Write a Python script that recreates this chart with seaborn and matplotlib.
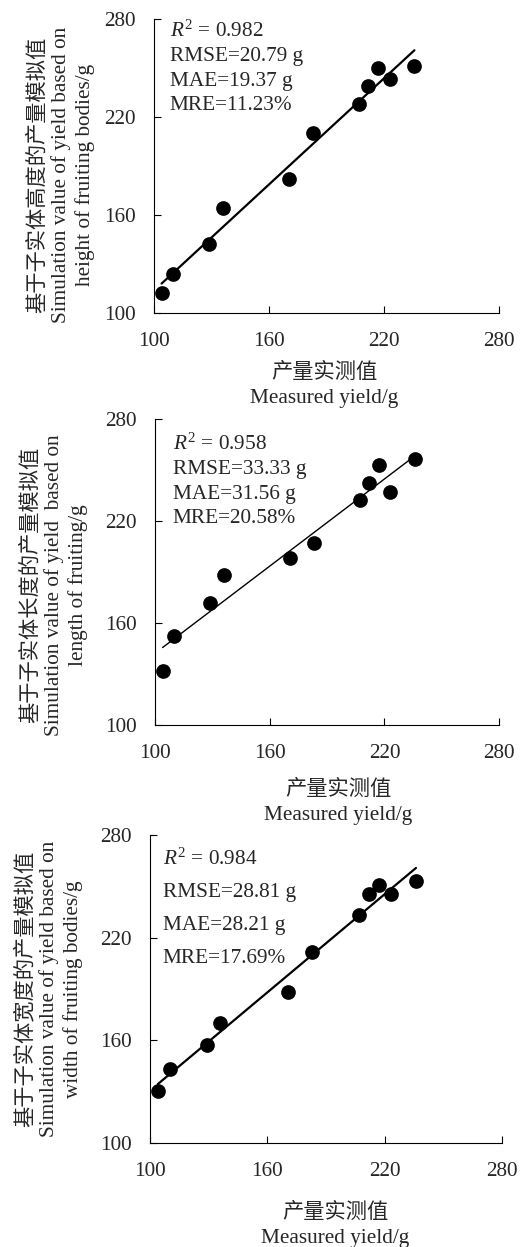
import numpy as np
import pandas as pd
import matplotlib
matplotlib.use("Agg")
import matplotlib.pyplot as plt
import seaborn as sns

# measured yield (g), same samples in all three panels
measured = [104, 110, 129, 136, 170.5, 183, 207, 212, 217, 223, 236]

# simulated yield from each fruiting body trait
sim_height = [112, 124, 142, 164, 182, 210, 228, 239, 250, 243, 251]
sim_length = [132, 152.5, 171.5, 188, 198.5, 207, 232.5, 242.5, 253, 237, 256.5]
sim_width = [130.5, 143.5, 157, 170, 188.5, 211.5, 233, 245.5, 250.5, 245.5, 253]

stats_text = [
    "$R^2$ = 0.982\nRMSE=20.79 g\nMAE=19.37 g\nMRE=11.23%",
    "$R^2$ = 0.958\nRMSE=33.33 g\nMAE=31.56 g\nMRE=20.58%",
    "$R^2$ = 0.984\nRMSE=28.81 g\nMAE=28.21 g\nMRE=17.69%",
]
ylabels = [
    "基于子实体高度的产量模拟值\nSimulation value of yield based on\nheight of fruiting bodies/g",
    "基于子实体长度的产量模拟值\nSimulation value of yield  based on\nlength of fruiting/g",
    "基于子实体宽度的产量模拟值\nSimulation value of yield based on\nwidth of fruiting bodies/g",
]
xlabel = "产量实测值\nMeasured yield/g"
ticks = [100, 160, 220, 280]

sns.set_style("ticks")
plt.rcParams['font.family'] = ['Liberation Serif', 'Noto Sans CJK SC']
plt.rcParams['mathtext.fontset'] = 'custom'
plt.rcParams['mathtext.rm'] = 'Liberation Serif'
plt.rcParams['mathtext.it'] = 'Liberation Serif:italic'
fs = 15.3
plt.rcParams['font.size'] = fs

fig = plt.figure(figsize=(5.2, 12.47), dpi=100)

# axes rectangles and per-panel tweaks
rects = [[0.296, 0.749, 0.663, 0.236],
         [0.298, 0.4186, 0.662, 0.2454],
         [0.2885, 0.0834, 0.677, 0.247]]
line_w = [1.6, 1.0, 1.6]
txt_pos = [(0.046, 0.995), (0.052, 0.953), (0.036, 0.956)]
txt_spacing = [1.4, 1.4, 1.98]
ylab_pos = [(-0.171, 0.469), (-0.195, 0.457), (-0.19, 0.5)]
xlab_pos = [(0.494, -0.168), (0.532, -0.178), (0.526, -0.193)]

sims = [sim_height, sim_length, sim_width]
for i in range(3):
    ax = fig.add_axes(rects[i])
    df = pd.DataFrame({'measured': measured, 'simulated': sims[i]})
    sns.regplot(data=df, x='measured', y='simulated', ax=ax, ci=None,
                color='black', truncate=True,
                scatter_kws={'s': 112, 'alpha': 1, 'linewidths': 0},
                line_kws={'linewidth': line_w[i]})
    ax.set_xlim(100, 280)
    ax.set_ylim(100, 280)
    ax.set_xticks(ticks)
    ax.set_yticks(ticks)
    ax.tick_params(axis='both', direction='in', length=5, width=0.8,
                   labelsize=fs, color='black')
    ax.tick_params(axis='x', pad=14)
    ax.tick_params(axis='y', pad=13)
    sns.despine(ax=ax)
    for s in ['left', 'bottom']:
        ax.spines[s].set_linewidth(0.8)
        ax.spines[s].set_color('black')

    ax.set_ylabel(ylabels[i], fontsize=fs, linespacing=1.25)
    ax.yaxis.set_label_coords(*ylab_pos[i])
    ax.set_xlabel(xlabel, fontsize=fs, linespacing=1.45)
    ax.xaxis.set_label_coords(*xlab_pos[i])

    ax.text(txt_pos[i][0], txt_pos[i][1], stats_text[i], transform=ax.transAxes,
            ha='left', va='top', fontsize=fs, linespacing=txt_spacing[i])

fig.savefig("out.png", dpi=100)
